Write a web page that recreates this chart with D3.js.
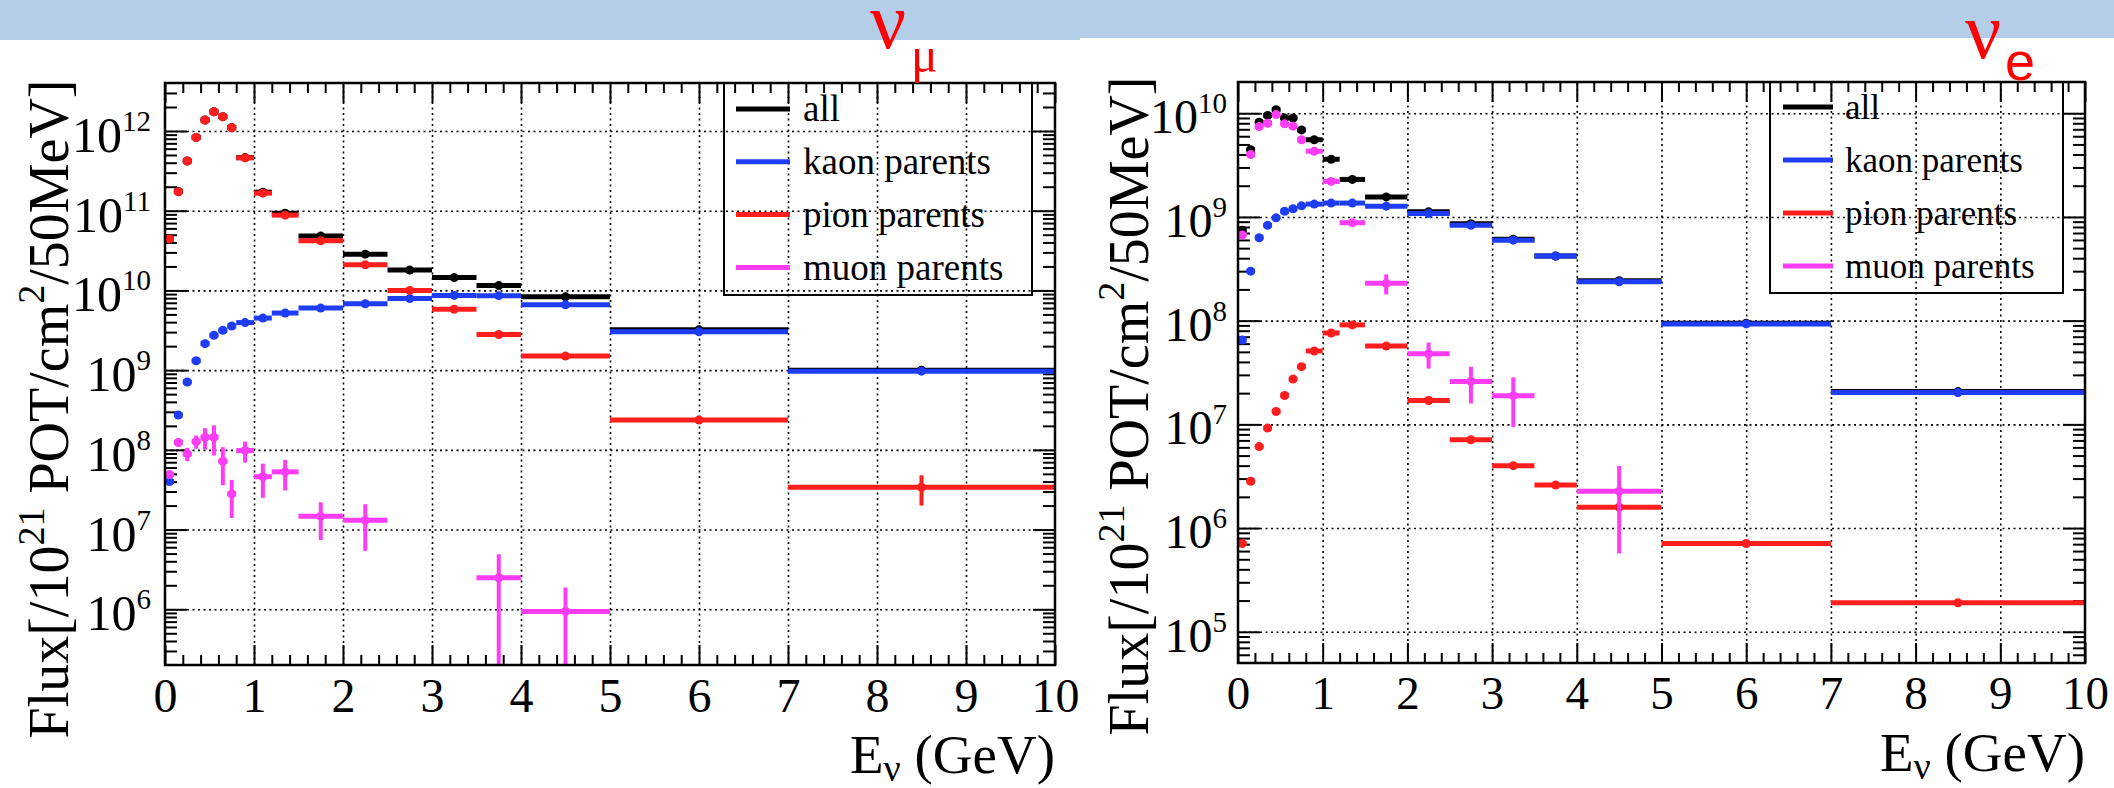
<!DOCTYPE html>
<html>
<head>
<meta charset="utf-8">
<script src="https://cdn.jsdelivr.net/npm/d3@7"></script>
<style>
  body { margin: 0; background: #ffffff; }
  svg { display: block; }
  svg text { font-family: "Liberation Serif", "Times New Roman", "DejaVu Serif", serif; }
  svg text.sans { font-family: "Liberation Sans", Arial, "DejaVu Sans", sans-serif; }
</style>
</head>
<body>
<svg id="fig" width="2114" height="788"></svg>
<script>
// Energy binning shared by both flux histograms (GeV)
const binEdges = [0, 0.1, 0.2, 0.3, 0.4, 0.5, 0.6, 0.7, 0.8, 1.0, 1.2, 1.5, 2.0, 2.5, 3.0, 3.5, 4.0, 5.0, 7.0, 10.0];

// nu_mu flux per parent type [/1e21 POT/cm^2/50MeV]
const numuAll  = [4.44e10, 1.74e11, 4.21e11, 8.31e11, 1.372e12, 1.743e12, 1.513e12, 1.104e12, 4.64e11, 1.71e11, 9.3e10, 4.8e10, 2.85e10, 1.8e10, 1.45e10, 1.15e10, 8.3e9, 3.2e9, 1.0e9];
const numuKaon = [4.0e7, 2.74e8, 7.1e8, 1.31e9, 2.15e9, 2.74e9, 3.16e9, 3.58e9, 3.95e9, 4.5e9, 5.2e9, 6.0e9, 6.8e9, 7.9e9, 8.66e9, 8.6e9, 6.6e9, 3.03e9, 9.7e8];
const numuPion = [4.43e10, 1.73e11, 4.2e11, 8.3e11, 1.37e12, 1.74e12, 1.51e12, 1.1e12, 4.6e11, 1.66e11, 8.8e10, 4.2e10, 2.1e10, 1.0e10, 5.8e9, 2.8e9, 1.5e9, 2.37e8, 3.4e7];
const numuMuon = [4.9e7, 1.24e8, 8.9e7, 1.27e8, 1.44e8, 1.44e8, 7.2e7, 2.8e7, 9.8e7, 4.6e7, 5.3e7, 1.47e7, 1.31e7, null, null, 2.49e6, 9.4e5, null, null];
const numuPionErr = [0, 0, 0, 0, 0, 0, 0, 0, 0, 0, 0, 0, 0, 0, 0, 0, 0, 1.5e7, 1.4e7];
const numuMuonErr = [5e6, 1.5e7, 1.7e7, 2.4e7, 4.3e7, 5.9e7, 3.6e7, 1.4e7, 2.9e7, 2.1e7, 2.2e7, 7.3e6, 7.7e6, null, null, 2.4e6, 9.3e5, null, null];

// nu_e flux per parent type
const nueAll  = [7.45e8, 4.45e9, 8.2e9, 9.5e9, 1.08e10, 9.0e9, 9.0e9, 6.9e9, 5.55e9, 3.6e9, 2.3e9, 1.56e9, 1.12e9, 8.6e8, 6.1e8, 4.2e8, 2.43e8, 9.45e7, 2.07e7];
const nueKaon = [6.5e7, 3.0e8, 6.3e8, 8.3e8, 9.8e8, 1.135e9, 1.2e9, 1.28e9, 1.33e9, 1.36e9, 1.36e9, 1.27e9, 1.08e9, 8.3e8, 5.97e8, 4.2e8, 2.37e8, 9.3e7, 2.03e7];
const nuePion = [7.1e5, 2.83e6, 6.1e6, 9.2e6, 1.33e7, 1.9e7, 2.73e7, 3.6e7, 5.1e7, 7.6e7, 9.1e7, 5.7e7, 1.7e7, 7.1e6, 4.0e6, 2.6e6, 1.59e6, 7.1e5, 1.9e5];
const nueMuon = [6.7e8, 4.0e9, 7.45e9, 8.0e9, 9.7e9, 7.9e9, 7.5e9, 5.55e9, 4.3e9, 2.2e9, 8.8e8, 2.29e8, 4.8e7, 2.59e7, 1.89e7, null, 2.27e6, null, null];
const nueMuonErr = [0, 0, 0, 0, 0, 0, 0, 0, 0, 0, 0, 5e7, 1.35e7, 1.0e7, 0.95e7, null, 1.7e6, null, null];

const xTicks = [0, 1, 2, 3, 4, 5, 6, 7, 8, 9, 10];
const seriesNames = ["all", "kaon parents", "pion parents", "muon parents"];
const seriesColors = ["#000000", "#1e3cf2", "#ff1e1e", "#ff3cf5"];

const svg = d3.select("#fig");
svg.append("rect").attr("width", 2114).attr("height", 788).attr("fill", "#ffffff");

// slide header bands
svg.append("rect").attr("x", 0).attr("y", 0).attr("width", 1080).attr("height", 40).attr("fill", "#b4cde9");
svg.append("rect").attr("x", 1080).attr("y", 0).attr("width", 1034).attr("height", 38).attr("fill", "#b4cde9");

function drawPanel(P, series, idx) {
  const g = svg.append("g");
  const x = d3.scaleLinear().domain([0, 10]).range([P.x0, P.x1]);
  const y = d3.scaleLog().domain([P.yLo, P.yHi]).range([P.y1, P.y0]);
  const W = P.x1 - P.x0, H = P.y1 - P.y0;

  const decadeVals = P.decades.map(d => Math.pow(10, d));
  const minorX = d3.range(0.2, 10, 0.2).filter(v => Math.abs(v - Math.round(v)) > 1e-6);
  const minorY = [];
  for (let d = Math.floor(Math.log10(P.yLo)); d <= Math.ceil(Math.log10(P.yHi)); d++) {
    for (let k = 2; k <= 9; k++) {
      const v = k * Math.pow(10, d);
      if (v > P.yLo && v < P.yHi) minorY.push(v);
    }
  }

  const clean = s => s.select(".domain").remove();
  const styleGrid = s => s.selectAll("line").attr("stroke", "#000").attr("stroke-width", 1.6).attr("stroke-dasharray", "2,3.5");
  const styleTick = s => s.selectAll("line").attr("stroke", "#000").attr("stroke-width", 2);

  // dotted grid
  g.append("g").attr("transform", `translate(0,${P.y1})`)
    .call(d3.axisBottom(x).tickValues(xTicks.slice(1, -1)).tickSize(-H).tickFormat(""))
    .call(clean).call(styleGrid);
  g.append("g").attr("transform", `translate(${P.x0},0)`)
    .call(d3.axisLeft(y).tickValues(decadeVals).tickSize(-W).tickFormat(""))
    .call(clean).call(styleGrid);

  // inward ticks on all four sides
  const tickSets = [
    [d3.axisBottom, x, `translate(0,${P.y1})`, xTicks, 20],
    [d3.axisBottom, x, `translate(0,${P.y1})`, minorX, 10],
    [d3.axisTop, x, `translate(0,${P.y0})`, xTicks, 20],
    [d3.axisTop, x, `translate(0,${P.y0})`, minorX, 10],
    [d3.axisLeft, y, `translate(${P.x0},0)`, decadeVals, 22],
    [d3.axisLeft, y, `translate(${P.x0},0)`, minorY, 12],
    [d3.axisRight, y, `translate(${P.x1},0)`, decadeVals, 22],
    [d3.axisRight, y, `translate(${P.x1},0)`, minorY, 12]
  ];
  tickSets.forEach(([ax, sc, tr, vals, len]) => {
    g.append("g").attr("transform", tr)
      .call(ax(sc).tickValues(vals).tickSize(-len).tickFormat(""))
      .call(clean).call(styleTick);
  });

  // x tick labels
  const xl = g.append("g").attr("transform", `translate(0,${P.y1})`)
    .call(d3.axisBottom(x).tickValues(xTicks).tickSize(0).tickPadding(13).tickFormat(d3.format("d")))
    .call(clean);
  xl.attr("font-size", P.xTickFont).attr("font-family", null);
  xl.selectAll("text").attr("fill", "#000");

  // y tick labels as 10^n
  P.decades.forEach(d => {
    const t = g.append("text")
      .attr("x", P.x0 - P.yLabGap)
      .attr("y", y(Math.pow(10, d)) + P.yLabDrop)
      .attr("text-anchor", "end")
      .attr("font-size", P.yTickFont)
      .attr("fill", "#000");
    t.append("tspan").text("10");
    t.append("tspan").attr("font-size", P.supFont).attr("dy", -P.yLabDrop).text(String(d));
  });

  // data: horizontal bin bars, vertical errors, markers
  const clipId = "clip" + idx;
  svg.append("clipPath").attr("id", clipId).append("rect")
    .attr("x", P.x0).attr("y", P.y0).attr("width", W).attr("height", H);
  const dg = g.append("g").attr("clip-path", `url(#${clipId})`);

  series.forEach((s, si) => {
    const pts = s.values.map((v, i) => ({
      v, e: s.errors ? s.errors[i] : 0,
      lo: binEdges[i], hi: binEdges[i + 1], c: (binEdges[i] + binEdges[i + 1]) / 2
    })).filter(p => p.v != null);
    const sg = dg.append("g").attr("stroke", seriesColors[si]).attr("fill", seriesColors[si]);
    sg.selectAll("line.h").data(pts).join("line").attr("class", "h")
      .attr("x1", p => x(p.lo)).attr("x2", p => x(p.hi))
      .attr("y1", p => y(p.v)).attr("y2", p => y(p.v))
      .attr("stroke-width", 5);
    sg.selectAll("line.v").data(pts.filter(p => p.e)).join("line").attr("class", "v")
      .attr("x1", p => x(p.c)).attr("x2", p => x(p.c))
      .attr("y1", p => y(p.v + p.e))
      .attr("y2", p => y(Math.max(p.v - p.e, P.yLo / 10)))
      .attr("stroke-width", 4);
    sg.selectAll("circle").data(pts).join("circle")
      .attr("cx", p => x(p.c)).attr("cy", p => y(p.v)).attr("r", 4.5)
      .attr("stroke", "none");
  });

  // frame
  g.append("rect").attr("x", P.x0).attr("y", P.y0).attr("width", W).attr("height", H)
    .attr("fill", "none").attr("stroke", "#000").attr("stroke-width", 2.5);

  // legend
  const L = P.legend;
  g.append("rect").attr("x", L.x0).attr("y", L.y0).attr("width", L.x1 - L.x0).attr("height", L.y1 - L.y0)
    .attr("fill", "none").attr("stroke", "#000").attr("stroke-width", 2);
  seriesNames.forEach((name, i) => {
    const ry = L.row0 + i * L.step;
    g.append("line").attr("x1", L.lx0).attr("x2", L.lx1).attr("y1", ry).attr("y2", ry)
      .attr("stroke", seriesColors[i]).attr("stroke-width", 5);
    g.append("text").attr("x", L.tx).attr("y", ry + L.font * 0.33)
      .attr("font-size", L.font).attr("fill", "#000").text(name);
  });

  // y axis title
  const yt = g.append("text")
    .attr("transform", `translate(${P.yTitle[0]},${P.yTitle[1]}) rotate(-90)`)
    .attr("text-anchor", "middle").attr("font-size", 56).attr("fill", "#000");
  yt.append("tspan").text("Flux[/10");
  yt.append("tspan").attr("font-size", 38).attr("dy", -24).text("21");
  yt.append("tspan").attr("dy", 24).text(" POT/cm");
  yt.append("tspan").attr("font-size", 38).attr("dy", -24).text("2");
  yt.append("tspan").attr("dy", 24).text("/50MeV]");

  // x axis title
  const xt = g.append("text").attr("x", P.xTitle[0]).attr("y", P.xTitle[1])
    .attr("text-anchor", "end").attr("font-size", 55).attr("fill", "#000");
  xt.append("tspan").text("E");
  xt.append("tspan").attr("font-size", 38).attr("dy", 8).text("ν");
  xt.append("tspan").attr("dy", -8).text(" (GeV)");

  // flavour label
  svg.append("text").attr("x", P.sym[0]).attr("y", P.sym[1])
    .attr("font-size", 80).attr("fill", "#ff0000").text("ν");
  svg.append("text").attr("class", P.subClass).attr("x", P.sub[0]).attr("y", P.sub[1])
    .attr("font-size", P.subFont).attr("fill", "#ff0000").text(P.subText);
}

drawPanel({
  x0: 165, x1: 1055, y0: 83, y1: 665, yLo: 2e5, yHi: 4e12,
  decades: [6, 7, 8, 9, 10, 11, 12],
  xTickFont: 48, yTickFont: 50, supFont: 29, yLabGap: 14, yLabDrop: 21,
  legend: { x0: 724, x1: 1032, y0: 83, y1: 295, lx0: 736, lx1: 790, tx: 803, row0: 109, step: 52.8, font: 37 },
  yTitle: [68, 409], xTitle: [1055, 773],
  sym: [870, 48], sub: [911, 72], subText: "μ", subClass: "serif", subFont: 50
}, [
  { values: numuAll },
  { values: numuKaon },
  { values: numuPion, errors: numuPionErr },
  { values: numuMuon, errors: numuMuonErr }
], 0);

drawPanel({
  x0: 1238, x1: 2085, y0: 82, y1: 663, yLo: 5e4, yHi: 2e10,
  decades: [5, 6, 7, 8, 9, 10],
  xTickFont: 47, yTickFont: 48, supFont: 29, yLabGap: 11, yLabDrop: 20,
  legend: { x0: 1770, x1: 2063, y0: 82, y1: 293, lx0: 1783, lx1: 1833, tx: 1845, row0: 107, step: 53, font: 35 },
  yTitle: [1148, 406], xTitle: [2085, 771],
  sym: [1965, 58], sub: [2005, 80], subText: "e", subClass: "sans", subFont: 54
}, [
  { values: nueAll },
  { values: nueKaon },
  { values: nuePion },
  { values: nueMuon, errors: nueMuonErr }
], 1);
</script>
</body>
</html>
